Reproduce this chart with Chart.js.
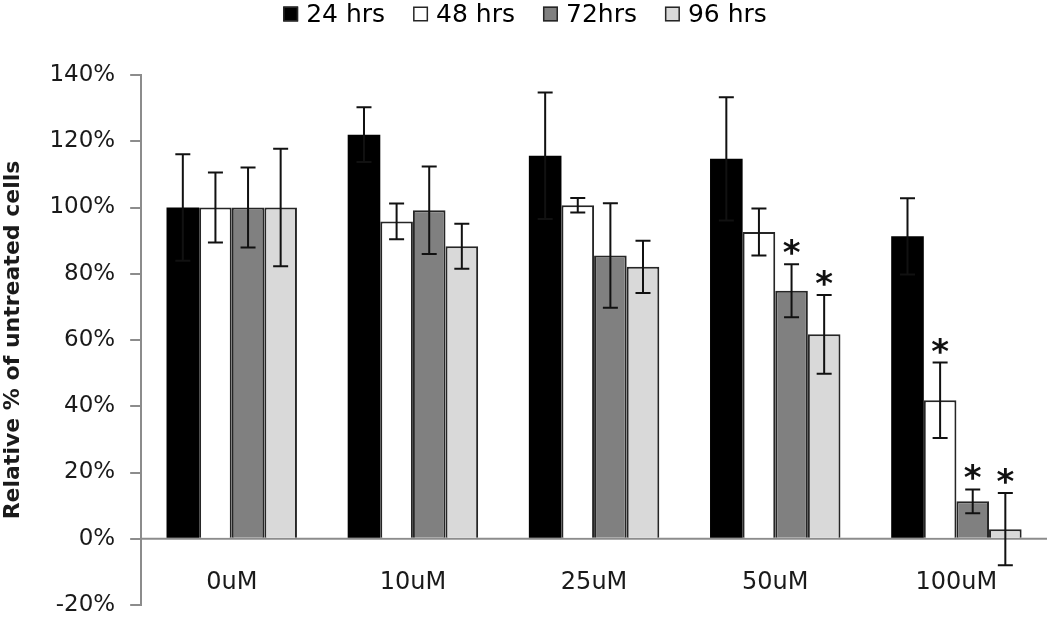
<!DOCTYPE html>
<html>
<head>
<meta charset="utf-8">
<script src="https://cdn.jsdelivr.net/npm/chart.js@4.4.1/dist/chart.umd.min.js"></script>
<style>
  html, body { margin: 0; padding: 0; background: #fff; }
  #wrap { width: 1050px; height: 619px; }
</style>
</head>
<body>
<div id="wrap"><canvas id="chart" width="1050" height="619"></canvas></div>
<script>
// Categories and series
const categories = ['0uM', '10uM', '25uM', '50uM', '100uM'];
const seriesNames = ['24 hrs', '48 hrs', '72hrs', '96 hrs'];

// Mean values (% of untreated cells)
const mean24 = [100, 122.0, 115.6, 114.7, 91.3];
const mean48 = [100, 95.8, 100.7, 92.6, 41.8];
const mean72 = [100, 99.2, 85.5, 74.9, 11.3];
const mean96 = [100, 88.3, 82.1, 61.7, 2.9];

// Error bar half-lengths
const err24 = [16.1, 8.3, 19.1, 18.6, 11.5];
const err48 = [10.6, 5.4, 2.2, 7.1, 11.4];
const err72 = [12.1, 13.2, 15.8, 8.0, 3.6];
const err96 = [17.7, 6.8, 7.9, 11.9, 10.9];

// Significance markers
const star24 = [false, false, false, false, false];
const star48 = [false, false, false, false, true];
const star72 = [false, false, false, true, true];
const star96 = [false, false, false, true, true];

// Y axis ticks
const yMin = -20;
const yMax = 140;
const yStep = 20;

const fills = ['#000000', '#ffffff', '#808080', '#d9d9d9'];
const edge = '#262626';
const axisGray = '#8c8c8c';
const textColor = '#1a1a1a';

const means = [mean24, mean48, mean72, mean96];
const errs = [err24, err48, err72, err96];
const stars = [star24, star48, star72, star96];

// Horizontal axis line at 0%
const zeroLinePlugin = {
  id: 'zeroLine',
  beforeDatasetsDraw(chart) {
    const {ctx, chartArea} = chart;
    const y0 = chart.scales.y.getPixelForValue(0);
    ctx.save();
    ctx.strokeStyle = axisGray;
    ctx.lineWidth = 2;
    ctx.beginPath();
    ctx.moveTo(chartArea.left, y0);
    ctx.lineTo(chartArea.right, y0);
    ctx.stroke();
    ctx.restore();
  }
};

// Error bars and asterisks drawn over the bars
const errorBarPlugin = {
  id: 'errorBars',
  afterDatasetsDraw(chart) {
    const ctx = chart.ctx;
    const y = chart.scales.y;
    ctx.save();
    chart.data.datasets.forEach((ds, i) => {
      const meta = chart.getDatasetMeta(i);
      meta.data.forEach((bar, j) => {
        const v = ds.data[j];
        const e = errs[i][j];
        const top = y.getPixelForValue(v + e);
        const bot = y.getPixelForValue(v - e);
        ctx.strokeStyle = '#111';
        ctx.lineWidth = 2;
        ctx.beginPath();
        ctx.moveTo(bar.x, top);
        ctx.lineTo(bar.x, bot);
        ctx.moveTo(bar.x - 7.5, top);
        ctx.lineTo(bar.x + 7.5, top);
        ctx.moveTo(bar.x - 7.5, bot);
        ctx.lineTo(bar.x + 7.5, bot);
        ctx.stroke();
        if (stars[i][j]) {
          ctx.font = 'bold 34px "DejaVu Sans"';
          ctx.fillStyle = '#111';
          ctx.textAlign = 'center';
          ctx.textBaseline = 'alphabetic';
          const m = ctx.measureText('*');
          const mid = (m.actualBoundingBoxAscent - m.actualBoundingBoxDescent) / 2;
          ctx.fillText('*', bar.x, top - 17 + mid);
        }
      });
    });
    ctx.restore();
  }
};

// Legend row centred at the top
const legendPlugin = {
  id: 'topLegend',
  afterDraw(chart) {
    const ctx = chart.ctx;
    const box = 15, gap = 8, space = 28, cy = 14;
    ctx.save();
    ctx.font = '25px "DejaVu Sans"';
    const widths = seriesNames.map(s => ctx.measureText(s).width);
    const total = widths.reduce((a, w) => a + box + gap + w, 0) + space * (seriesNames.length - 1);
    let x = (chart.width - total) / 2;
    seriesNames.forEach((s, i) => {
      ctx.fillStyle = fills[i];
      ctx.fillRect(x, cy - box / 2, box, box);
      ctx.strokeStyle = edge;
      ctx.lineWidth = 1.5;
      ctx.strokeRect(x + 0.75, cy - box / 2 + 0.75, box - 1.5, box - 1.5);
      ctx.fillStyle = '#000';
      ctx.textAlign = 'left';
      ctx.textBaseline = 'middle';
      ctx.fillText(s, x + box + gap, cy + 1);
      x += box + gap + widths[i] + space;
    });
    ctx.restore();
  }
};

new Chart(document.getElementById('chart'), {
  type: 'bar',
  data: {
    labels: categories,
    datasets: seriesNames.map((name, i) => ({
      label: name,
      data: means[i],
      backgroundColor: fills[i],
      borderColor: i === 0 ? fills[0] : edge,
      borderWidth: i === 0 ? 0 : 2,
      categoryPercentage: 0.72,
      barPercentage: 1.0
    }))
  },
  options: {
    responsive: false,
    animation: false,
    layout: { padding: { top: 75, bottom: 0, left: 0, right: 3 } },
    plugins: {
      legend: { display: false },
      tooltip: { enabled: false }
    },
    scales: {
      x: {
        position: { y: 0 },
        grid: { display: false, drawTicks: false },
        border: { display: false },
        ticks: {
          color: textColor,
          padding: 30,
          font: { family: 'DejaVu Sans', size: 24 }
        }
      },
      y: {
        min: yMin,
        max: yMax,
        // keep only half a label of room below -20%
        afterFit: scale => {
          scale.paddingTop = 14;
          scale.paddingBottom = 14;
        },
        grid: {
          drawOnChartArea: false,
          drawTicks: true,
          tickLength: 11,
          color: axisGray,
          lineWidth: 2
        },
        border: { display: true, color: axisGray, width: 2 },
        ticks: {
          stepSize: yStep,
          color: textColor,
          padding: 15,
          font: { family: 'DejaVu Sans', size: 23 },
          callback: v => v + '%'
        },
        title: {
          display: true,
          text: 'Relative % of untreated cells',
          color: textColor,
          padding: { top: 0, bottom: 8 },
          font: { family: 'DejaVu Sans', size: 22, weight: 'bold' }
        }
      }
    }
  },
  plugins: [zeroLinePlugin, errorBarPlugin, legendPlugin]
});
</script>
</body>
</html>
